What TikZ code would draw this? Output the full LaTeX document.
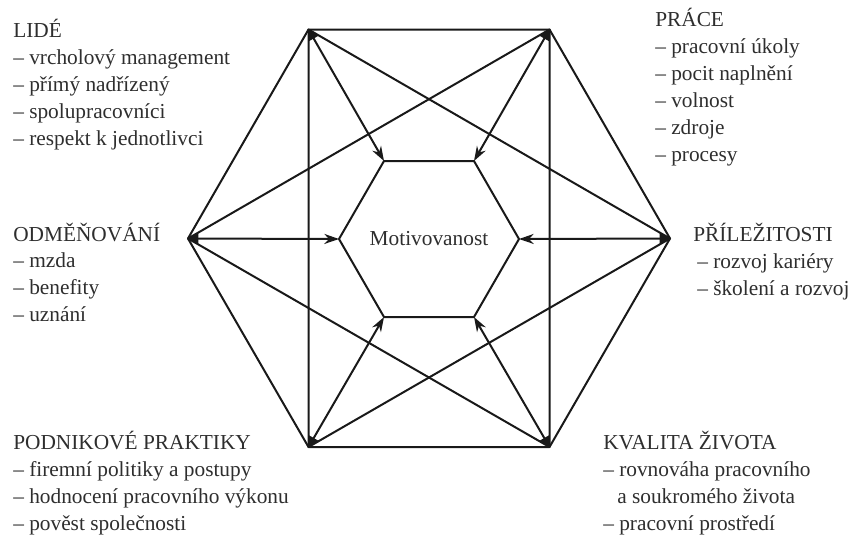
\documentclass[tikz,border=0pt]{standalone}
\usepackage{fontspec}
\setmainfont{Liberation Serif}
\usetikzlibrary{arrows.meta,calc}
\definecolor{txt}{HTML}{2E2E2E}
\begin{document}
\begin{tikzpicture}[x=0.75pt,y=-0.75pt,
  edge/.style={line width=1.5pt,black!90},
  arr/.style={edge,-{Stealth[length=11pt,width=7.5pt]}},
  lab/.style={anchor=base west,inner sep=0pt,text=txt,font=\fontsize{16}{19}\selectfont},
  wedge/.style={fill=black!90}]
\useasboundingbox (0,0) rectangle (850,540);
% outer hexagon
\coordinate (oTL) at (308.5,29.5);
\coordinate (oTR) at (549.5,29.5);
\coordinate (oR) at (670,238.5);
\coordinate (oBR) at (549.5,447);
\coordinate (oBL) at (308.5,447);
\coordinate (oL) at (188,238.5);
% inner hexagon
\coordinate (iTL) at (384,161);
\coordinate (iTR) at (474,161);
\coordinate (iR) at (519,239);
\coordinate (iBR) at (474,317);
\coordinate (iBL) at (384,317);
\coordinate (iL) at (339,239);
\draw[edge,line join=round] (oTL)--(oTR)--(oR)--(oBR)--(oBL)--(oL)--cycle;
\draw[edge,line join=round] (oTL)--(oR)--(oBL)--cycle;
\draw[edge,line join=round] (oTR)--(oBR)--(oL)--cycle;
\draw[edge,line join=round] (iTL)--(iTR)--(iR)--(iBR)--(iBL)--(iL)--cycle;
\foreach \a in {TL,TR,R,BR,BL,L}{
  \draw[arr] (o\a) -- (i\a);
}
% vertex wedges
\foreach \v/\p/\q in {TL/oBL/oR, TR/oBR/oL, R/oTL/oBL, BR/oL/oTR, BL/oTL/oR, L/oTR/oBR}{
  \fill[wedge] (o\v) -- ($(o\v)!9pt!(\p)$) -- ($(o\v)!9pt!(\q)$) -- cycle;
}
\node[text=txt,font=\fontsize{16}{19}\selectfont] (mot) at (429,239) {Motivovanost};
% LIDÉ
\node[lab] (l0) at (13,37) {LIDÉ};
\node[lab] (l1) at (13,64) {– vrcholový management};
\node[lab] (l2) at (13,91) {– přímý nadřízený};
\node[lab] (l3) at (13,118) {– spolupracovníci};
\node[lab] (l4) at (13,145) {– respekt k jednotlivci};
% PRÁCE
\node[lab] (p0) at (655,26) {PRÁCE};
\node[lab] (p1) at (655,53) {– pracovní úkoly};
\node[lab] (p2) at (655,80) {– pocit naplnění};
\node[lab] (p3) at (655,107) {– volnost};
\node[lab] (p4) at (655,134) {– zdroje};
\node[lab] (p5) at (655,161) {– procesy};
% PŘÍLEŽITOSTI
\node[lab] (r0) at (693,241) {PŘÍLEŽITOSTI};
\node[lab] (r1) at (697,268) {– rozvoj kariéry};
\node[lab] (r2) at (697,295) {– školení a rozvoj};
% ODMĚŇOVÁNÍ
\node[lab] (o0) at (13,241) {ODMĚŇOVÁNÍ};
\node[lab] (o1) at (13,267) {– mzda};
\node[lab] (o2) at (13,294) {– benefity};
\node[lab] (o3) at (13,321) {– uznání};
% PODNIKOVÉ PRAKTIKY
\node[lab] (k0) at (13,449) {PODNIKOVÉ PRAKTIKY};
\node[lab] (k1) at (13,476) {– firemní politiky a postupy};
\node[lab] (k2) at (13,503) {– hodnocení pracovního výkonu};
\node[lab] (k3) at (13,530) {– pověst společnosti};
% KVALITA ŽIVOTA
\node[lab] (q0) at (603,449) {KVALITA ŽIVOTA};
\node[lab] (q1) at (603,476) {– rovnováha pracovního};
\node[lab] (q2) at (617,503) {a soukromého života};
\node[lab] (q3) at (603,530) {– pracovní prostředí};
\end{tikzpicture}
\end{document}
